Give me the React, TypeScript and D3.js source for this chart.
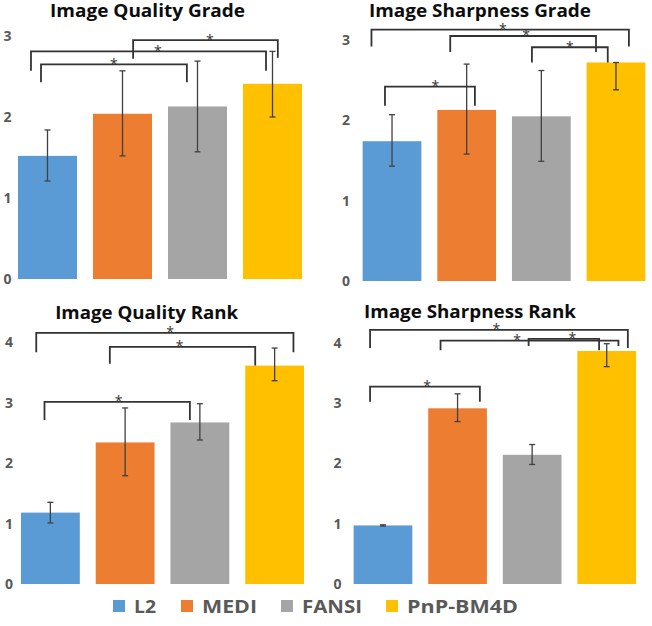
import React from 'react';
import * as d3 from 'd3';

// ---------- data ----------
const categories = ['L2', 'MEDI', 'FANSI', 'PnP-BM4D'];
const seriesColors = ['#5B9BD5', '#ED7D31', '#A5A5A5', '#FFC000'];

const gradeTicks = [0, 1, 2, 3];
const rankTicks = [0, 1, 2, 3, 4];

const qualityGradeMean = [1.52, 2.04, 2.13, 2.41];
const qualityGradeLow = [1.21, 1.52, 1.57, 2.0];
const qualityGradeHigh = [1.84, 2.57, 2.69, 2.81];

const sharpGradeMean = [1.74, 2.13, 2.05, 2.72];
const sharpGradeLow = [1.43, 1.58, 1.49, 2.38];
const sharpGradeHigh = [2.07, 2.7, 2.62, 2.72];

const qualityRankMean = [1.18, 2.34, 2.67, 3.61];
const qualityRankLow = [1.01, 1.79, 2.38, 3.36];
const qualityRankHigh = [1.35, 2.91, 2.98, 3.9];

const sharpRankMean = [0.97, 2.91, 2.14, 3.86];
const sharpRankLow = [0.96, 2.69, 1.98, 3.6];
const sharpRankHigh = [0.98, 3.15, 2.31, 3.98];

// significance brackets: [fromIdx, fromFrac, toIdx, toFrac, top, legFrom, legTo, starT]
type Br = [number, number, number, number, number, number, number, number];

const qualityGradeBrackets: Br[] = [
  [0, 0.39, 2, 0.32, 2.65, 2.43, 2.43, 0.5],
  [0, 0.22, 3, 0.39, 2.81, 2.57, 2.57, 0.54],
  [1, 0.68, 3, 0.59, 2.95, 2.72, 2.73, 0.53],
];
const sharpGradeBrackets: Br[] = [
  [0, 0.38, 1, 0.64, 2.42, 2.18, 2.18, 0.56],
  [0, 0.15, 3, 0.72, 3.13, 2.92, 2.92, 0.51],
  [1, 0.22, 3, 0.16, 3.05, 2.85, 2.85, 0.52],
  [2, 0.34, 3, 0.36, 2.91, 2.72, 2.72, 0.5],
];
const qualityRankBrackets: Br[] = [
  [0, 0.26, 3, 0.82, 4.15, 3.83, 3.83, 0.52],
  [1, 0.24, 3, 0.17, 3.92, 3.64, 3.61, 0.48],
  [0, 0.4, 2, 0.33, 3.01, 2.71, 2.71, 0.51],
];
const sharpRankBrackets: Br[] = [
  [0, 0.28, 3, 0.86, 4.21, 3.91, 3.91, 0.49],
  [1, 0.21, 3, 0.7, 4.03, 3.87, 3.94, 0.43],
  [2, 0.44, 3, 0.37, 4.06, 3.94, 3.87, 0.62],
  [0, 0.28, 1, 0.88, 3.27, 3.02, 3.02, 0.52],
];

// ---------- layout ----------
type Layout = {
  title: string;
  xRange: [number, number];
  yRange: [number, number];
  yMax: number;
  ticks: number[];
  tickX: number;
  titleX: number;
  titleY: number;
  titleLen: number;
};

const FONT = '"Open Sans", "DejaVu Sans", sans-serif';
const INK = '#333333';

function Panel(props: {
  layout: Layout;
  mean: number[];
  low: number[];
  high: number[];
  brackets: Br[];
}) {
  const { layout, mean, low, high, brackets } = props;
  const x = d3
    .scaleBand<string>()
    .domain(categories)
    .range(layout.xRange)
    .paddingInner(0.213)
    .paddingOuter(0.1065);
  const y = d3.scaleLinear().domain([0, layout.yMax]).range(layout.yRange);
  const bw = x.bandwidth();
  const cap = 3;
  const bx = (i: number, f: number) => (x(categories[i]) as number) + f * bw;

  return (
    <g>
      <text
        x={layout.titleX}
        y={layout.titleY}
        textAnchor="middle"
        fontFamily={FONT}
        fontWeight="bold"
        fontSize={17}
        fill="#0d0d0d"
        textLength={layout.titleLen}
        lengthAdjust="spacingAndGlyphs"
      >
        {layout.title}
      </text>
      {layout.ticks.map((t) => (
        <text
          key={t}
          x={layout.tickX}
          y={y(t)}
          dy="0.36em"
          textAnchor="middle"
          fontFamily={FONT}
          fontWeight="bold"
          fontSize={14}
          fill="#595959"
        >
          {t}
        </text>
      ))}
      {categories.map((c, i) => (
        <rect
          key={c}
          x={x(c)}
          y={y(mean[i])}
          width={bw}
          height={y(0) - y(mean[i])}
          fill={seriesColors[i]}
        />
      ))}
      {categories.map((c, i) => {
        const cx = (x(c) as number) + bw / 2;
        return (
          <g key={'e' + c} stroke="#404040" strokeWidth={1.3} fill="none">
            <line x1={cx} x2={cx} y1={y(high[i])} y2={y(low[i])} />
            <line x1={cx - cap} x2={cx + cap} y1={y(high[i])} y2={y(high[i])} />
            <line x1={cx - cap} x2={cx + cap} y1={y(low[i])} y2={y(low[i])} />
          </g>
        );
      })}
      {brackets.map((b, k) => {
        const x1 = bx(b[0], b[1]);
        const x2 = bx(b[2], b[3]);
        const yt = y(b[4]);
        const path = d3.path();
        path.moveTo(x1, y(b[5]));
        path.lineTo(x1, yt);
        path.lineTo(x2, yt);
        path.lineTo(x2, y(b[6]));
        const sx = x1 + (x2 - x1) * b[7];
        return (
          <g key={'b' + k}>
            <path d={path.toString()} stroke={INK} strokeWidth={1.8} fill="none" />
            <text
              x={sx}
              y={yt + 4.5}
              textAnchor="middle"
              fontFamily={FONT}
              fontSize={14}
              fill={INK}
            >
              *
            </text>
          </g>
        );
      })}
    </g>
  );
}

const panels: { layout: Layout; mean: number[]; low: number[]; high: number[]; brackets: Br[] }[] = [
  {
    layout: {
      title: 'Image Quality Grade',
      xRange: [10, 310],
      yRange: [279, 36],
      yMax: 3,
      ticks: gradeTicks,
      tickX: 7.5,
      titleX: 147.5,
      titleY: 16.7,
      titleLen: 195,
    },
    mean: qualityGradeMean,
    low: qualityGradeLow,
    high: qualityGradeHigh,
    brackets: qualityGradeBrackets,
  },
  {
    layout: {
      title: 'Image Sharpness Grade',
      xRange: [354.7, 653.3],
      yRange: [281, 40],
      yMax: 3,
      ticks: gradeTicks,
      tickX: 346,
      titleX: 480,
      titleY: 16.7,
      titleLen: 222,
    },
    mean: sharpGradeMean,
    low: sharpGradeLow,
    high: sharpGradeHigh,
    brackets: sharpGradeBrackets,
  },
  {
    layout: {
      title: 'Image Quality Rank',
      xRange: [13, 312],
      yRange: [584, 342],
      yMax: 4,
      ticks: rankTicks,
      tickX: 9,
      titleX: 146.7,
      titleY: 319.3,
      titleLen: 183,
    },
    mean: qualityRankMean,
    low: qualityRankLow,
    high: qualityRankHigh,
    brackets: qualityRankBrackets,
  },
  {
    layout: {
      title: 'Image Sharpness Rank',
      xRange: [345.7, 644],
      yRange: [584, 342.5],
      yMax: 4,
      ticks: rankTicks,
      tickX: 337.5,
      titleX: 470,
      titleY: 318.3,
      titleLen: 212,
    },
    mean: sharpRankMean,
    low: sharpRankLow,
    high: sharpRankHigh,
    brackets: sharpRankBrackets,
  },
];

const legendSquareX = [113, 181, 281, 386];
const legendTextLen = [22, 55, 60, 111];

export default function App() {
  return (
    <svg
      width={652}
      height={626}
      style={{ position: 'absolute', left: 0, top: 0, background: '#fff' }}
    >
      <rect width={652} height={626} fill="#fff" />
      {panels.map((p, i) => (
        <Panel key={i} {...p} />
      ))}
      {categories.map((c, i) => (
        <g key={'l' + c}>
          <rect x={legendSquareX[i]} y={600} width={12} height={12} fill={seriesColors[i]} />
          <text
            x={legendSquareX[i] + 21}
            y={613}
            fontFamily={FONT}
            fontWeight="bold"
            fontSize={18}
            fill="#595959"
            textLength={legendTextLen[i]}
            lengthAdjust="spacingAndGlyphs"
          >
            {c}
          </text>
        </g>
      ))}
    </svg>
  );
}
